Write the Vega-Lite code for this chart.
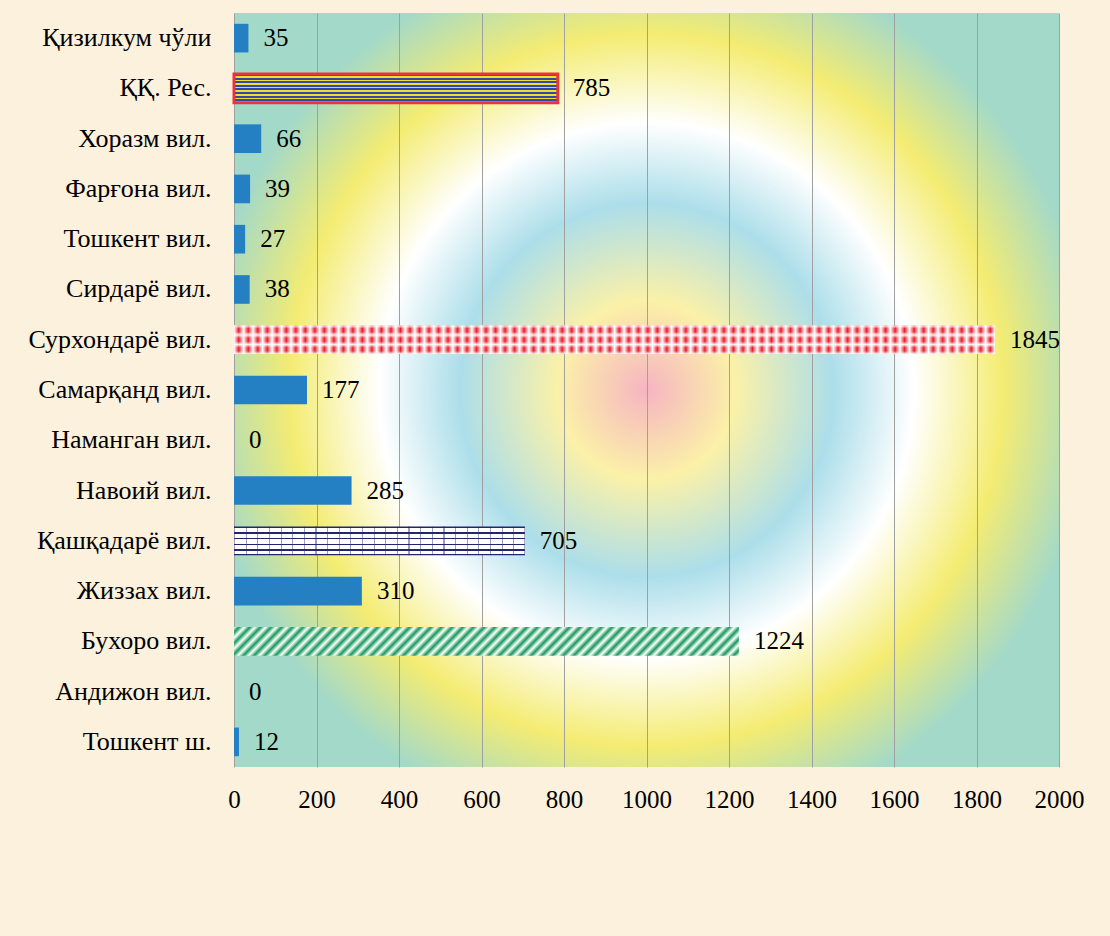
{
  "$schema": "https://vega.github.io/schema/vega-lite/v6.json",
  "width": 825,
  "height": 754,
  "autosize": {"type": "none"},
  "padding": {"left": 234, "top": 13, "right": 51, "bottom": 169},
  "background": "#fcf1dd",
  "config": {
    "font": "Liberation Serif",
    "view": {
      "stroke": null,
      "fill": {
        "gradient": "radial",
        "x1": 0.5, "y1": 0.5, "r1": 0,
        "x2": 0.5, "y2": 0.5, "r2": 0.54,
        "stops": [
          {"offset": 0, "color": "#f6b4c2"},
          {"offset": 0.2, "color": "#fbf1a8"},
          {"offset": 0.42, "color": "#acdeea"},
          {"offset": 0.6, "color": "#ffffff"},
          {"offset": 0.8, "color": "#f4ec72"},
          {"offset": 1, "color": "#a3d9c9"}
        ]
      }
    }
  },
  "data": {
    "values": [
      {"region": "Қизилкум чўли", "value": 35},
      {"region": "ҚҚ. Рес.", "value": 785},
      {"region": "Хоразм вил.", "value": 66},
      {"region": "Фарғона вил.", "value": 39},
      {"region": "Тошкент вил.", "value": 27},
      {"region": "Сирдарё вил.", "value": 38},
      {"region": "Сурхондарё вил.", "value": 1845},
      {"region": "Самарқанд вил.", "value": 177},
      {"region": "Наманган вил.", "value": 0},
      {"region": "Навоий вил.", "value": 285},
      {"region": "Қашқадарё вил.", "value": 705},
      {"region": "Жиззах вил.", "value": 310},
      {"region": "Бухоро вил.", "value": 1224},
      {"region": "Андижон вил.", "value": 0},
      {"region": "Тошкент ш.", "value": 12}
    ]
  },
  "encoding": {
    "y": {
      "field": "region",
      "type": "nominal",
      "sort": null,
      "scale": {
        "domain": ["Қизилкум чўли", "ҚҚ. Рес.", "Хоразм вил.", "Фарғона вил.", "Тошкент вил.", "Сирдарё вил.", "Сурхондарё вил.", "Самарқанд вил.", "Наманган вил.", "Навоий вил.", "Қашқадарё вил.", "Жиззах вил.", "Бухоро вил.", "Андижон вил.", "Тошкент ш."],
        "paddingInner": 0.43,
        "paddingOuter": 0.215
      },
      "axis": {
        "title": null,
        "domain": false,
        "ticks": false,
        "labelFontSize": 26,
        "labelLimit": 400,
        "labelColor": "#000000",
        "labelPadding": 23,
        "labelFont": "Liberation Serif"
      }
    },
    "x": {
      "field": "value",
      "type": "quantitative",
      "scale": {"domain": [0, 2000], "nice": false},
      "axis": {
        "title": null,
        "domain": false,
        "ticks": false,
        "grid": true,
        "gridColor": "#a0a0a0",
        "gridWidth": 1,
        "format": "d",
        "values": [0, 200, 400, 600, 800, 1000, 1200, 1400, 1600, 1800, 2000],
        "labelFlush": false,
        "labelFontSize": 25,
        "labelColor": "#000000",
        "labelPadding": 20,
        "labelFont": "Liberation Serif"
      }
    }
  },
  "layer": [
    {
      "transform": [{"filter": "indexof(['ҚҚ. Рес.','Сурхондарё вил.','Қашқадарё вил.','Бухоро вил.'], datum.region) < 0"}],
      "mark": {"type": "bar", "color": "#2580c3"}
    },
    {
      "transform": [{"filter": "datum.region === 'ҚҚ. Рес.'"}],
      "mark": {
        "type": "bar",
        "stroke": "#e8343c",
        "strokeWidth": 3,
        "fill": {
          "gradient": "linear", "x1": 0, "y1": 0, "x2": 0, "y2": 1,
          "stops": [
            {"offset": 0, "color": "#3046b0"}, {"offset": 0.07, "color": "#3046b0"}, {"offset": 0.07, "color": "#f2e022"}, {"offset": 0.125, "color": "#f2e022"},
            {"offset": 0.125, "color": "#3046b0"}, {"offset": 0.195, "color": "#3046b0"}, {"offset": 0.195, "color": "#f2e022"}, {"offset": 0.25, "color": "#f2e022"},
            {"offset": 0.25, "color": "#3046b0"}, {"offset": 0.32, "color": "#3046b0"}, {"offset": 0.32, "color": "#f2e022"}, {"offset": 0.375, "color": "#f2e022"},
            {"offset": 0.375, "color": "#3046b0"}, {"offset": 0.445, "color": "#3046b0"}, {"offset": 0.445, "color": "#f2e022"}, {"offset": 0.5, "color": "#f2e022"},
            {"offset": 0.5, "color": "#3046b0"}, {"offset": 0.57, "color": "#3046b0"}, {"offset": 0.57, "color": "#f2e022"}, {"offset": 0.625, "color": "#f2e022"},
            {"offset": 0.625, "color": "#3046b0"}, {"offset": 0.695, "color": "#3046b0"}, {"offset": 0.695, "color": "#f2e022"}, {"offset": 0.75, "color": "#f2e022"},
            {"offset": 0.75, "color": "#3046b0"}, {"offset": 0.82, "color": "#3046b0"}, {"offset": 0.82, "color": "#f2e022"}, {"offset": 0.875, "color": "#f2e022"},
            {"offset": 0.875, "color": "#3046b0"}, {"offset": 0.945, "color": "#3046b0"}, {"offset": 0.945, "color": "#f2e022"}, {"offset": 1, "color": "#f2e022"}
          ]
        }
      }
    },
    {
      "transform": [{"filter": "datum.region === 'Сурхондарё вил.'"}],
      "mark": {
        "type": "bar",
        "fill": {
          "gradient": "linear", "x1": 0, "y1": 0, "x2": 1, "y2": 0,
          "stops": [
            {"offset": 0, "color": "#fff"}, {"offset": 0.00625, "color": "#ea1c2a"}, {"offset": 0.0125, "color": "#fff"}, {"offset": 0.01875, "color": "#ea1c2a"}, {"offset": 0.025, "color": "#fff"}, {"offset": 0.03125, "color": "#ea1c2a"}, {"offset": 0.0375, "color": "#fff"}, {"offset": 0.04375, "color": "#ea1c2a"},
            {"offset": 0.05, "color": "#fff"}, {"offset": 0.05625, "color": "#ea1c2a"}, {"offset": 0.0625, "color": "#fff"}, {"offset": 0.06875, "color": "#ea1c2a"}, {"offset": 0.075, "color": "#fff"}, {"offset": 0.08125, "color": "#ea1c2a"}, {"offset": 0.0875, "color": "#fff"}, {"offset": 0.09375, "color": "#ea1c2a"},
            {"offset": 0.1, "color": "#fff"}, {"offset": 0.10625, "color": "#ea1c2a"}, {"offset": 0.1125, "color": "#fff"}, {"offset": 0.11875, "color": "#ea1c2a"}, {"offset": 0.125, "color": "#fff"}, {"offset": 0.13125, "color": "#ea1c2a"}, {"offset": 0.1375, "color": "#fff"}, {"offset": 0.14375, "color": "#ea1c2a"},
            {"offset": 0.15, "color": "#fff"}, {"offset": 0.15625, "color": "#ea1c2a"}, {"offset": 0.1625, "color": "#fff"}, {"offset": 0.16875, "color": "#ea1c2a"}, {"offset": 0.175, "color": "#fff"}, {"offset": 0.18125, "color": "#ea1c2a"}, {"offset": 0.1875, "color": "#fff"}, {"offset": 0.19375, "color": "#ea1c2a"},
            {"offset": 0.2, "color": "#fff"}, {"offset": 0.20625, "color": "#ea1c2a"}, {"offset": 0.2125, "color": "#fff"}, {"offset": 0.21875, "color": "#ea1c2a"}, {"offset": 0.225, "color": "#fff"}, {"offset": 0.23125, "color": "#ea1c2a"}, {"offset": 0.2375, "color": "#fff"}, {"offset": 0.24375, "color": "#ea1c2a"},
            {"offset": 0.25, "color": "#fff"}, {"offset": 0.25625, "color": "#ea1c2a"}, {"offset": 0.2625, "color": "#fff"}, {"offset": 0.26875, "color": "#ea1c2a"}, {"offset": 0.275, "color": "#fff"}, {"offset": 0.28125, "color": "#ea1c2a"}, {"offset": 0.2875, "color": "#fff"}, {"offset": 0.29375, "color": "#ea1c2a"},
            {"offset": 0.3, "color": "#fff"}, {"offset": 0.30625, "color": "#ea1c2a"}, {"offset": 0.3125, "color": "#fff"}, {"offset": 0.31875, "color": "#ea1c2a"}, {"offset": 0.325, "color": "#fff"}, {"offset": 0.33125, "color": "#ea1c2a"}, {"offset": 0.3375, "color": "#fff"}, {"offset": 0.34375, "color": "#ea1c2a"},
            {"offset": 0.35, "color": "#fff"}, {"offset": 0.35625, "color": "#ea1c2a"}, {"offset": 0.3625, "color": "#fff"}, {"offset": 0.36875, "color": "#ea1c2a"}, {"offset": 0.375, "color": "#fff"}, {"offset": 0.38125, "color": "#ea1c2a"}, {"offset": 0.3875, "color": "#fff"}, {"offset": 0.39375, "color": "#ea1c2a"},
            {"offset": 0.4, "color": "#fff"}, {"offset": 0.40625, "color": "#ea1c2a"}, {"offset": 0.4125, "color": "#fff"}, {"offset": 0.41875, "color": "#ea1c2a"}, {"offset": 0.425, "color": "#fff"}, {"offset": 0.43125, "color": "#ea1c2a"}, {"offset": 0.4375, "color": "#fff"}, {"offset": 0.44375, "color": "#ea1c2a"},
            {"offset": 0.45, "color": "#fff"}, {"offset": 0.45625, "color": "#ea1c2a"}, {"offset": 0.4625, "color": "#fff"}, {"offset": 0.46875, "color": "#ea1c2a"}, {"offset": 0.475, "color": "#fff"}, {"offset": 0.48125, "color": "#ea1c2a"}, {"offset": 0.4875, "color": "#fff"}, {"offset": 0.49375, "color": "#ea1c2a"},
            {"offset": 0.5, "color": "#fff"}, {"offset": 0.50625, "color": "#ea1c2a"}, {"offset": 0.5125, "color": "#fff"}, {"offset": 0.51875, "color": "#ea1c2a"}, {"offset": 0.525, "color": "#fff"}, {"offset": 0.53125, "color": "#ea1c2a"}, {"offset": 0.5375, "color": "#fff"}, {"offset": 0.54375, "color": "#ea1c2a"},
            {"offset": 0.55, "color": "#fff"}, {"offset": 0.55625, "color": "#ea1c2a"}, {"offset": 0.5625, "color": "#fff"}, {"offset": 0.56875, "color": "#ea1c2a"}, {"offset": 0.575, "color": "#fff"}, {"offset": 0.58125, "color": "#ea1c2a"}, {"offset": 0.5875, "color": "#fff"}, {"offset": 0.59375, "color": "#ea1c2a"},
            {"offset": 0.6, "color": "#fff"}, {"offset": 0.60625, "color": "#ea1c2a"}, {"offset": 0.6125, "color": "#fff"}, {"offset": 0.61875, "color": "#ea1c2a"}, {"offset": 0.625, "color": "#fff"}, {"offset": 0.63125, "color": "#ea1c2a"}, {"offset": 0.6375, "color": "#fff"}, {"offset": 0.64375, "color": "#ea1c2a"},
            {"offset": 0.65, "color": "#fff"}, {"offset": 0.65625, "color": "#ea1c2a"}, {"offset": 0.6625, "color": "#fff"}, {"offset": 0.66875, "color": "#ea1c2a"}, {"offset": 0.675, "color": "#fff"}, {"offset": 0.68125, "color": "#ea1c2a"}, {"offset": 0.6875, "color": "#fff"}, {"offset": 0.69375, "color": "#ea1c2a"},
            {"offset": 0.7, "color": "#fff"}, {"offset": 0.70625, "color": "#ea1c2a"}, {"offset": 0.7125, "color": "#fff"}, {"offset": 0.71875, "color": "#ea1c2a"}, {"offset": 0.725, "color": "#fff"}, {"offset": 0.73125, "color": "#ea1c2a"}, {"offset": 0.7375, "color": "#fff"}, {"offset": 0.74375, "color": "#ea1c2a"},
            {"offset": 0.75, "color": "#fff"}, {"offset": 0.75625, "color": "#ea1c2a"}, {"offset": 0.7625, "color": "#fff"}, {"offset": 0.76875, "color": "#ea1c2a"}, {"offset": 0.775, "color": "#fff"}, {"offset": 0.78125, "color": "#ea1c2a"}, {"offset": 0.7875, "color": "#fff"}, {"offset": 0.79375, "color": "#ea1c2a"},
            {"offset": 0.8, "color": "#fff"}, {"offset": 0.80625, "color": "#ea1c2a"}, {"offset": 0.8125, "color": "#fff"}, {"offset": 0.81875, "color": "#ea1c2a"}, {"offset": 0.825, "color": "#fff"}, {"offset": 0.83125, "color": "#ea1c2a"}, {"offset": 0.8375, "color": "#fff"}, {"offset": 0.84375, "color": "#ea1c2a"},
            {"offset": 0.85, "color": "#fff"}, {"offset": 0.85625, "color": "#ea1c2a"}, {"offset": 0.8625, "color": "#fff"}, {"offset": 0.86875, "color": "#ea1c2a"}, {"offset": 0.875, "color": "#fff"}, {"offset": 0.88125, "color": "#ea1c2a"}, {"offset": 0.8875, "color": "#fff"}, {"offset": 0.89375, "color": "#ea1c2a"},
            {"offset": 0.9, "color": "#fff"}, {"offset": 0.90625, "color": "#ea1c2a"}, {"offset": 0.9125, "color": "#fff"}, {"offset": 0.91875, "color": "#ea1c2a"}, {"offset": 0.925, "color": "#fff"}, {"offset": 0.93125, "color": "#ea1c2a"}, {"offset": 0.9375, "color": "#fff"}, {"offset": 0.94375, "color": "#ea1c2a"},
            {"offset": 0.95, "color": "#fff"}, {"offset": 0.95625, "color": "#ea1c2a"}, {"offset": 0.9625, "color": "#fff"}, {"offset": 0.96875, "color": "#ea1c2a"}, {"offset": 0.975, "color": "#fff"}, {"offset": 0.98125, "color": "#ea1c2a"}, {"offset": 0.9875, "color": "#fff"}, {"offset": 0.99375, "color": "#ea1c2a"},
            {"offset": 1, "color": "#fff"}
          ]
        }
      }
    },
    {
      "transform": [{"filter": "datum.region === 'Сурхондарё вил.'"}],
      "mark": {
        "type": "bar",
        "fill": {
          "gradient": "linear", "x1": 0, "y1": 0, "x2": 0, "y2": 1,
          "stops": [
            {"offset": 0, "color": "rgba(255,255,255,0.95)"},
            {"offset": 0.11, "color": "rgba(255,255,255,0)"},
            {"offset": 0.223, "color": "rgba(255,255,255,0)"},
            {"offset": 0.3333, "color": "rgba(255,255,255,0.9)"},
            {"offset": 0.443, "color": "rgba(255,255,255,0)"},
            {"offset": 0.557, "color": "rgba(255,255,255,0)"},
            {"offset": 0.6667, "color": "rgba(255,255,255,0.9)"},
            {"offset": 0.777, "color": "rgba(255,255,255,0)"},
            {"offset": 0.89, "color": "rgba(255,255,255,0)"},
            {"offset": 1, "color": "rgba(255,255,255,0.95)"}
          ]
        }
      }
    },
    {
      "transform": [{"filter": "datum.region === 'Қашқадарё вил.'"}],
      "mark": {
        "type": "bar",
        "fill": {
          "gradient": "linear", "x1": 0, "y1": 0, "x2": 0, "y2": 1,
          "stops": [
            {"offset": 0, "color": "#23266e"}, {"offset": 0.05, "color": "#23266e"}, {"offset": 0.05, "color": "#ffffff"}, {"offset": 0.2, "color": "#ffffff"},
            {"offset": 0.2, "color": "#23266e"}, {"offset": 0.25, "color": "#23266e"}, {"offset": 0.25, "color": "#ffffff"}, {"offset": 0.4, "color": "#ffffff"},
            {"offset": 0.4, "color": "#23266e"}, {"offset": 0.45, "color": "#23266e"}, {"offset": 0.45, "color": "#ffffff"}, {"offset": 0.6, "color": "#ffffff"},
            {"offset": 0.6, "color": "#23266e"}, {"offset": 0.65, "color": "#23266e"}, {"offset": 0.65, "color": "#ffffff"}, {"offset": 0.8, "color": "#ffffff"},
            {"offset": 0.8, "color": "#23266e"}, {"offset": 0.85, "color": "#23266e"}, {"offset": 0.85, "color": "#ffffff"}, {"offset": 0.95, "color": "#ffffff"},
            {"offset": 0.95, "color": "#23266e"}, {"offset": 1, "color": "#23266e"}
          ]
        }
      }
    },
    {
      "transform": [{"filter": "datum.region === 'Қашқадарё вил.'"}],
      "mark": {
        "type": "bar",
        "fill": {
          "gradient": "linear", "x1": 0, "y1": 0, "x2": 1, "y2": 0,
          "stops": [
            {"offset": 0, "color": "rgba(35,38,110,0.45)"}, {"offset": 0.004, "color": "rgba(35,38,110,0.45)"}, {"offset": 0.004, "color": "rgba(35,38,110,0)"}, {"offset": 0.04, "color": "rgba(35,38,110,0)"},
            {"offset": 0.04, "color": "rgba(35,38,110,0.45)"}, {"offset": 0.044, "color": "rgba(35,38,110,0.45)"}, {"offset": 0.044, "color": "rgba(35,38,110,0)"}, {"offset": 0.08, "color": "rgba(35,38,110,0)"},
            {"offset": 0.08, "color": "rgba(35,38,110,0.45)"}, {"offset": 0.084, "color": "rgba(35,38,110,0.45)"}, {"offset": 0.084, "color": "rgba(35,38,110,0)"}, {"offset": 0.12, "color": "rgba(35,38,110,0)"},
            {"offset": 0.12, "color": "rgba(35,38,110,0.45)"}, {"offset": 0.124, "color": "rgba(35,38,110,0.45)"}, {"offset": 0.124, "color": "rgba(35,38,110,0)"}, {"offset": 0.16, "color": "rgba(35,38,110,0)"},
            {"offset": 0.16, "color": "rgba(35,38,110,0.45)"}, {"offset": 0.164, "color": "rgba(35,38,110,0.45)"}, {"offset": 0.164, "color": "rgba(35,38,110,0)"}, {"offset": 0.2, "color": "rgba(35,38,110,0)"},
            {"offset": 0.2, "color": "rgba(35,38,110,0.45)"}, {"offset": 0.204, "color": "rgba(35,38,110,0.45)"}, {"offset": 0.204, "color": "rgba(35,38,110,0)"}, {"offset": 0.24, "color": "rgba(35,38,110,0)"},
            {"offset": 0.24, "color": "rgba(35,38,110,0.45)"}, {"offset": 0.244, "color": "rgba(35,38,110,0.45)"}, {"offset": 0.244, "color": "rgba(35,38,110,0)"}, {"offset": 0.28, "color": "rgba(35,38,110,0)"},
            {"offset": 0.28, "color": "rgba(35,38,110,0.45)"}, {"offset": 0.284, "color": "rgba(35,38,110,0.45)"}, {"offset": 0.284, "color": "rgba(35,38,110,0)"}, {"offset": 0.32, "color": "rgba(35,38,110,0)"},
            {"offset": 0.32, "color": "rgba(35,38,110,0.45)"}, {"offset": 0.324, "color": "rgba(35,38,110,0.45)"}, {"offset": 0.324, "color": "rgba(35,38,110,0)"}, {"offset": 0.36, "color": "rgba(35,38,110,0)"},
            {"offset": 0.36, "color": "rgba(35,38,110,0.45)"}, {"offset": 0.364, "color": "rgba(35,38,110,0.45)"}, {"offset": 0.364, "color": "rgba(35,38,110,0)"}, {"offset": 0.4, "color": "rgba(35,38,110,0)"},
            {"offset": 0.4, "color": "rgba(35,38,110,0.45)"}, {"offset": 0.404, "color": "rgba(35,38,110,0.45)"}, {"offset": 0.404, "color": "rgba(35,38,110,0)"}, {"offset": 0.44, "color": "rgba(35,38,110,0)"},
            {"offset": 0.44, "color": "rgba(35,38,110,0.45)"}, {"offset": 0.444, "color": "rgba(35,38,110,0.45)"}, {"offset": 0.444, "color": "rgba(35,38,110,0)"}, {"offset": 0.48, "color": "rgba(35,38,110,0)"},
            {"offset": 0.48, "color": "rgba(35,38,110,0.45)"}, {"offset": 0.484, "color": "rgba(35,38,110,0.45)"}, {"offset": 0.484, "color": "rgba(35,38,110,0)"}, {"offset": 0.52, "color": "rgba(35,38,110,0)"},
            {"offset": 0.52, "color": "rgba(35,38,110,0.45)"}, {"offset": 0.524, "color": "rgba(35,38,110,0.45)"}, {"offset": 0.524, "color": "rgba(35,38,110,0)"}, {"offset": 0.56, "color": "rgba(35,38,110,0)"},
            {"offset": 0.56, "color": "rgba(35,38,110,0.45)"}, {"offset": 0.564, "color": "rgba(35,38,110,0.45)"}, {"offset": 0.564, "color": "rgba(35,38,110,0)"}, {"offset": 0.6, "color": "rgba(35,38,110,0)"},
            {"offset": 0.6, "color": "rgba(35,38,110,0.45)"}, {"offset": 0.604, "color": "rgba(35,38,110,0.45)"}, {"offset": 0.604, "color": "rgba(35,38,110,0)"}, {"offset": 0.64, "color": "rgba(35,38,110,0)"},
            {"offset": 0.64, "color": "rgba(35,38,110,0.45)"}, {"offset": 0.644, "color": "rgba(35,38,110,0.45)"}, {"offset": 0.644, "color": "rgba(35,38,110,0)"}, {"offset": 0.68, "color": "rgba(35,38,110,0)"},
            {"offset": 0.68, "color": "rgba(35,38,110,0.45)"}, {"offset": 0.684, "color": "rgba(35,38,110,0.45)"}, {"offset": 0.684, "color": "rgba(35,38,110,0)"}, {"offset": 0.72, "color": "rgba(35,38,110,0)"},
            {"offset": 0.72, "color": "rgba(35,38,110,0.45)"}, {"offset": 0.724, "color": "rgba(35,38,110,0.45)"}, {"offset": 0.724, "color": "rgba(35,38,110,0)"}, {"offset": 0.76, "color": "rgba(35,38,110,0)"},
            {"offset": 0.76, "color": "rgba(35,38,110,0.45)"}, {"offset": 0.764, "color": "rgba(35,38,110,0.45)"}, {"offset": 0.764, "color": "rgba(35,38,110,0)"}, {"offset": 0.8, "color": "rgba(35,38,110,0)"},
            {"offset": 0.8, "color": "rgba(35,38,110,0.45)"}, {"offset": 0.804, "color": "rgba(35,38,110,0.45)"}, {"offset": 0.804, "color": "rgba(35,38,110,0)"}, {"offset": 0.84, "color": "rgba(35,38,110,0)"},
            {"offset": 0.84, "color": "rgba(35,38,110,0.45)"}, {"offset": 0.844, "color": "rgba(35,38,110,0.45)"}, {"offset": 0.844, "color": "rgba(35,38,110,0)"}, {"offset": 0.88, "color": "rgba(35,38,110,0)"},
            {"offset": 0.88, "color": "rgba(35,38,110,0.45)"}, {"offset": 0.884, "color": "rgba(35,38,110,0.45)"}, {"offset": 0.884, "color": "rgba(35,38,110,0)"}, {"offset": 0.92, "color": "rgba(35,38,110,0)"},
            {"offset": 0.92, "color": "rgba(35,38,110,0.45)"}, {"offset": 0.924, "color": "rgba(35,38,110,0.45)"}, {"offset": 0.924, "color": "rgba(35,38,110,0)"}, {"offset": 0.96, "color": "rgba(35,38,110,0)"},
            {"offset": 0.96, "color": "rgba(35,38,110,0.45)"}, {"offset": 0.964, "color": "rgba(35,38,110,0.45)"}, {"offset": 0.964, "color": "rgba(35,38,110,0)"}, {"offset": 0.996, "color": "rgba(35,38,110,0)"},
            {"offset": 0.996, "color": "rgba(35,38,110,0.45)"}, {"offset": 1, "color": "rgba(35,38,110,0.45)"}
          ]
        }
      }
    },
    {
      "transform": [{"filter": "datum.region === 'Бухоро вил.'"}],
      "mark": {
        "type": "bar",
        "fill": {
          "gradient": "linear", "x1": 0, "y1": 0, "x2": 1.052, "y2": 0.0583,
          "stops": [
            {"offset": 0, "color": "#fff"}, {"offset": 0.01, "color": "#16995a"}, {"offset": 0.02, "color": "#fff"}, {"offset": 0.03, "color": "#16995a"}, {"offset": 0.04, "color": "#fff"}, {"offset": 0.05, "color": "#16995a"}, {"offset": 0.06, "color": "#fff"}, {"offset": 0.07, "color": "#16995a"}, {"offset": 0.08, "color": "#fff"}, {"offset": 0.09, "color": "#16995a"},
            {"offset": 0.1, "color": "#fff"}, {"offset": 0.11, "color": "#16995a"}, {"offset": 0.12, "color": "#fff"}, {"offset": 0.13, "color": "#16995a"}, {"offset": 0.14, "color": "#fff"}, {"offset": 0.15, "color": "#16995a"}, {"offset": 0.16, "color": "#fff"}, {"offset": 0.17, "color": "#16995a"}, {"offset": 0.18, "color": "#fff"}, {"offset": 0.19, "color": "#16995a"},
            {"offset": 0.2, "color": "#fff"}, {"offset": 0.21, "color": "#16995a"}, {"offset": 0.22, "color": "#fff"}, {"offset": 0.23, "color": "#16995a"}, {"offset": 0.24, "color": "#fff"}, {"offset": 0.25, "color": "#16995a"}, {"offset": 0.26, "color": "#fff"}, {"offset": 0.27, "color": "#16995a"}, {"offset": 0.28, "color": "#fff"}, {"offset": 0.29, "color": "#16995a"},
            {"offset": 0.3, "color": "#fff"}, {"offset": 0.31, "color": "#16995a"}, {"offset": 0.32, "color": "#fff"}, {"offset": 0.33, "color": "#16995a"}, {"offset": 0.34, "color": "#fff"}, {"offset": 0.35, "color": "#16995a"}, {"offset": 0.36, "color": "#fff"}, {"offset": 0.37, "color": "#16995a"}, {"offset": 0.38, "color": "#fff"}, {"offset": 0.39, "color": "#16995a"},
            {"offset": 0.4, "color": "#fff"}, {"offset": 0.41, "color": "#16995a"}, {"offset": 0.42, "color": "#fff"}, {"offset": 0.43, "color": "#16995a"}, {"offset": 0.44, "color": "#fff"}, {"offset": 0.45, "color": "#16995a"}, {"offset": 0.46, "color": "#fff"}, {"offset": 0.47, "color": "#16995a"}, {"offset": 0.48, "color": "#fff"}, {"offset": 0.49, "color": "#16995a"},
            {"offset": 0.5, "color": "#fff"}, {"offset": 0.51, "color": "#16995a"}, {"offset": 0.52, "color": "#fff"}, {"offset": 0.53, "color": "#16995a"}, {"offset": 0.54, "color": "#fff"}, {"offset": 0.55, "color": "#16995a"}, {"offset": 0.56, "color": "#fff"}, {"offset": 0.57, "color": "#16995a"}, {"offset": 0.58, "color": "#fff"}, {"offset": 0.59, "color": "#16995a"},
            {"offset": 0.6, "color": "#fff"}, {"offset": 0.61, "color": "#16995a"}, {"offset": 0.62, "color": "#fff"}, {"offset": 0.63, "color": "#16995a"}, {"offset": 0.64, "color": "#fff"}, {"offset": 0.65, "color": "#16995a"}, {"offset": 0.66, "color": "#fff"}, {"offset": 0.67, "color": "#16995a"}, {"offset": 0.68, "color": "#fff"}, {"offset": 0.69, "color": "#16995a"},
            {"offset": 0.7, "color": "#fff"}, {"offset": 0.71, "color": "#16995a"}, {"offset": 0.72, "color": "#fff"}, {"offset": 0.73, "color": "#16995a"}, {"offset": 0.74, "color": "#fff"}, {"offset": 0.75, "color": "#16995a"}, {"offset": 0.76, "color": "#fff"}, {"offset": 0.77, "color": "#16995a"}, {"offset": 0.78, "color": "#fff"}, {"offset": 0.79, "color": "#16995a"},
            {"offset": 0.8, "color": "#fff"}, {"offset": 0.81, "color": "#16995a"}, {"offset": 0.82, "color": "#fff"}, {"offset": 0.83, "color": "#16995a"}, {"offset": 0.84, "color": "#fff"}, {"offset": 0.85, "color": "#16995a"}, {"offset": 0.86, "color": "#fff"}, {"offset": 0.87, "color": "#16995a"}, {"offset": 0.88, "color": "#fff"}, {"offset": 0.89, "color": "#16995a"},
            {"offset": 0.9, "color": "#fff"}, {"offset": 0.91, "color": "#16995a"}, {"offset": 0.92, "color": "#fff"}, {"offset": 0.93, "color": "#16995a"}, {"offset": 0.94, "color": "#fff"}, {"offset": 0.95, "color": "#16995a"}, {"offset": 0.96, "color": "#fff"}, {"offset": 0.97, "color": "#16995a"}, {"offset": 0.98, "color": "#fff"}, {"offset": 0.99, "color": "#16995a"},
            {"offset": 1, "color": "#fff"}
          ]
        }
      }
    },
    {
      "mark": {
        "type": "text",
        "align": "left",
        "baseline": "middle",
        "dx": 15,
        "fontSize": 25,
        "font": "Liberation Serif",
        "color": "#000000"
      },
      "encoding": {"text": {"field": "value", "type": "quantitative"}}
    }
  ]
}
